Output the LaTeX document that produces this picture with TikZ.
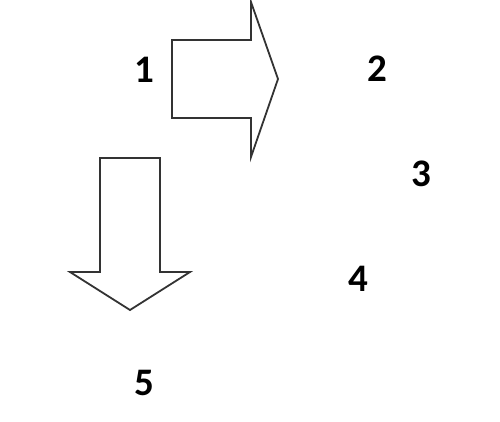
\documentclass[tikz,border=0pt]{standalone}
\usepackage{fontspec}
\setmainfont{Carlito}
\begin{document}
\begin{tikzpicture}[x=1pt,y=-1pt,
  lbl/.style={font=\bfseries\fontsize{39}{42}\selectfont, inner sep=0pt, anchor=center},
  arrowshape/.style={draw=black!80, line width=1.8pt, line join=miter, fill=white}]
\useasboundingbox (0,0) rectangle (500,421);
% right arrow
\draw[arrowshape] (172,40) -- (251,40) -- (251,2) -- (278,79) -- (251,157) -- (251,118) -- (172,118) -- cycle;
% down arrow
\draw[arrowshape] (100,158) -- (160,158) -- (160,272) -- (190,272) -- (130,310) -- (70,272) -- (100,272) -- cycle;
\node[lbl] (n1) at (144,70) {1};
\node[lbl] (n2) at (377,69) {2};
\node[lbl] (n3) at (421,174) {3};
\node[lbl] (n4) at (358,279) {4};
\node[lbl] (n5) at (144,383) {5};
\end{tikzpicture}
\end{document}
